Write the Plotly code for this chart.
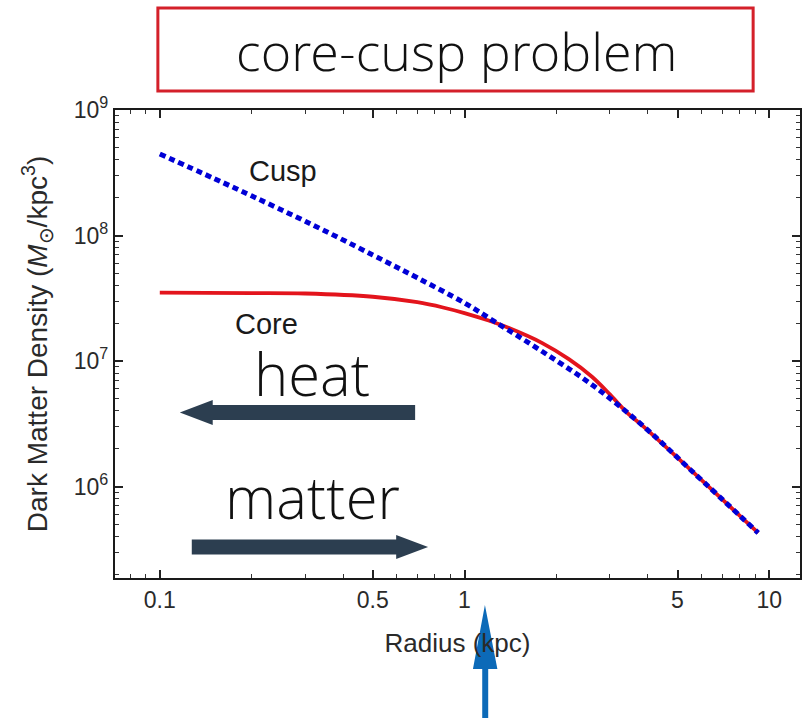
import plotly.graph_objects as go

# ---- data ----
cusp_radius = [0.1, 0.15, 0.2, 0.3, 0.5, 0.7, 1.0, 1.26, 1.8, 2.62, 3.82, 5.57, 9.2]
cusp_density = [4.46e8, 2.86e8, 2.07e8, 1.30e8, 7.0e7, 4.6e7, 2.9e7, 2.05e7, 1.19e7,
                6.47e6, 3.1e6, 1.33e6, 4.27e5]
core_radius = [0.1, 0.2, 0.3, 0.5, 0.7, 0.85, 1.0, 1.2, 1.4, 1.8, 2.2, 2.62, 3.0, 3.4,
               3.82, 5.57, 9.2]
core_density = [3.5e7, 3.48e7, 3.45e7, 3.25e7, 2.94e7, 2.67e7, 2.41e7, 2.10e7, 1.83e7,
                1.39e7, 1.035e7, 7.5e6, 5.42e6, 3.92e6, 3.08e6, 1.33e6, 4.27e5]

x_tickvals = [0.1, 0.5, 1, 5, 10]
x_ticktext = ["0.1", "0.5", "1", "5", "10"]
x_minor = [0.08, 0.09, 0.2, 0.3, 0.4, 0.6, 0.7, 0.8, 0.9, 2, 3, 4, 6, 7, 8, 9]
y_tickvals = [1e6, 1e7, 1e8, 1e9]
y_ticktext = ["10<sup>6</sup>", "10<sup>7</sup>", "10<sup>8</sup>", "10<sup>9</sup>"]
y_minor = [m * 10 ** k for k in (5, 6, 7, 8) for m in range(2, 10)]

# ---- layout geometry (pixels) ----
W, H = 808, 718
L, R, T, B = 115, 802, 110, 578
PW, PH = R - L, B - T


def px(x):
    return (x - L) / PW


def py(y):
    return (B - y) / PH


def poly(points):
    return "M " + " L ".join(f"{px(a):.5f},{py(b):.5f}" for a, b in points) + " Z"


fig = go.Figure()
fig.add_trace(go.Scatter(x=core_radius, y=core_density, mode="lines", name="Core",
                         line=dict(color="#e3141c", width=3.8, shape="spline", smoothing=1.0)))
fig.add_trace(go.Scatter(x=cusp_radius, y=cusp_density, mode="lines", name="Cusp",
                         line=dict(color="#0000d6", width=5, dash="6px,4px", shape="spline", smoothing=1.0)))

sans = "Liberation Sans, Arial, sans-serif"
axis_font = dict(family=sans, size=23, color="#2a2a2a")

fig.update_xaxes(type="log", range=[-1.147, 1.101], tickmode="array", tickvals=x_tickvals,
                 ticktext=x_ticktext, ticks="inside", ticklen=8, tickwidth=1.5, tickcolor="#222",
                 minor=dict(tickmode="array", tickvals=x_minor, ticks="inside", ticklen=4,
                            tickwidth=1.2, tickcolor="#333", showgrid=False),
                 showline=True, linewidth=2.2, linecolor="#1a1a1a", mirror="ticks", showgrid=False,
                 zeroline=False, tickfont=axis_font,
                 title=dict(text="Radius (kpc)", font=dict(family=sans, size=26, color="#2a2a2a"),
                            standoff=22))
fig.update_yaxes(type="log", range=[5.271, 9.0], tickmode="array", tickvals=y_tickvals,
                 ticktext=y_ticktext, ticks="inside", ticklen=8, tickwidth=1.5, tickcolor="#222",
                 minor=dict(tickmode="array", tickvals=y_minor, ticks="inside", ticklen=4,
                            tickwidth=1.2, tickcolor="#333", showgrid=False),
                 showline=True, linewidth=2.2, linecolor="#1a1a1a", mirror="ticks", showgrid=False,
                 zeroline=False, tickfont=axis_font,
                 title=dict(text="Dark Matter Density (<i>M</i><sub>⊙</sub>/kpc<sup>3</sup>)",
                            font=dict(family=sans, size=28, color="#2a2a2a"), standoff=18))

label_font = dict(family=sans, size=29, color="#1a1a1a")
light_family = "Open Sans Light, Open Sans, sans-serif"
light_font = dict(family=light_family, size=58, color="#111111", weight=300)
arrow_col = "#2c3e50"

shapes = [
    # title box
    dict(type="rect", xref="paper", yref="paper", x0=px(158), x1=px(755), y0=py(91), y1=py(8),
         line=dict(color="#d4202a", width=3), fillcolor="rgba(0,0,0,0)", layer="above"),
    # heat arrow (pointing left)
    dict(type="path", xref="paper", yref="paper",
         path=poly([(416, 405), (213, 405), (213, 400), (180, 412.5), (213, 425), (213, 420), (416, 420)]),
         fillcolor=arrow_col, line=dict(width=0), layer="above"),
    # matter arrow (pointing right)
    dict(type="path", xref="paper", yref="paper",
         path=poly([(192, 539.5), (397, 539.5), (397, 535), (429, 547), (397, 559), (397, 554.5), (192, 554.5)]),
         fillcolor=arrow_col, line=dict(width=0), layer="above"),
    # blue arrow (pointing up)
    dict(type="path", xref="paper", yref="paper",
         path=poly([(483.3, 720), (483.3, 669), (474, 669), (486, 605), (498.5, 669), (489.3, 669), (489.3, 720)]),
         fillcolor="#0c6ab8", line=dict(width=0), layer="above"),
]

annotations = [
    dict(text="core-cusp problem", xref="paper", yref="paper", x=px(457), y=py(50),
         showarrow=False, xanchor="center", yanchor="middle",
         font=dict(family=light_family, size=52, color="#111111", weight=300)),
    dict(text="heat", xref="paper", yref="paper", x=px(313), y=py(373), showarrow=False,
         xanchor="center", yanchor="middle", height=62, font=light_font),
    dict(text="matter", xref="paper", yref="paper", x=px(313), y=py(496), showarrow=False,
         xanchor="center", yanchor="middle", height=62, font=light_font),
    dict(text="Cusp", xref="x", yref="y", x=-0.597, y=8.514, showarrow=False,
         xanchor="center", yanchor="middle", font=label_font),
    dict(text="Core", xref="x", yref="y", x=-0.650, y=7.295, showarrow=False,
         xanchor="center", yanchor="middle", height=30, font=label_font),
]

fig.update_layout(width=W, height=H, margin=dict(l=L, r=W - R, t=T, b=H - B),
                  paper_bgcolor="white", plot_bgcolor="white", showlegend=False,
                  shapes=shapes, annotations=annotations)

fig.write_html("out.html")
